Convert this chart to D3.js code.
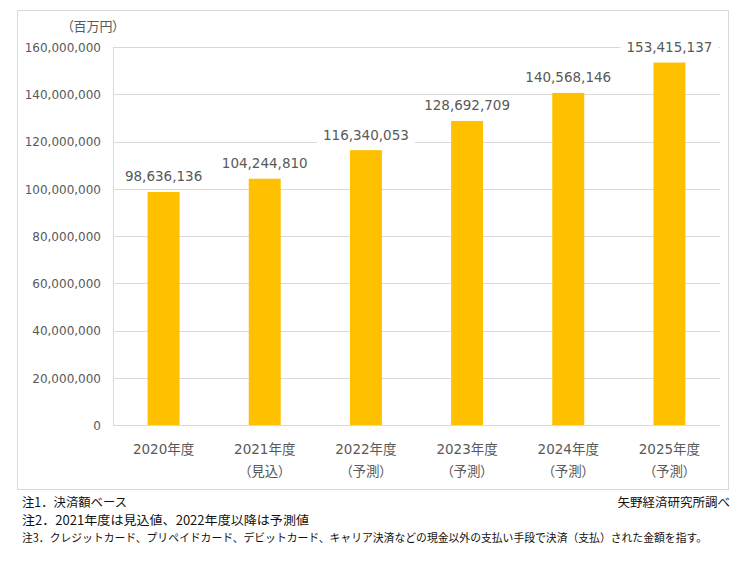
<!DOCTYPE html>
<html>
<head>
<meta charset="utf-8">
<script src="https://cdn.jsdelivr.net/npm/d3@7/dist/d3.min.js"></script>
<style>
  html, body { margin: 0; padding: 0; background: #fff; }
  svg { display: block; }
  .palt { font-feature-settings: "palt"; }
</style>
</head>
<body>
<svg id="chart" width="741" height="582"></svg>
<script>
const categories = ["2020年度", "2021年度", "2022年度", "2023年度", "2024年度", "2025年度"];
const subLabels = ["", "（見込）", "（予測）", "（予測）", "（予測）", "（予測）"];
const values = [98636136, 104244810, 116340053, 128692709, 140568146, 153415137];
const yTicks = [0, 20000000, 40000000, 60000000, 80000000, 100000000, 120000000, 140000000, 160000000];
const unitLabel = "（百万円）";
const notes = [
  "注1．決済額ベース",
  "注2．2021年度は見込値、2022年度以降は予測値",
  "注3．クレジットカード、プリペイドカード、デビットカード、キャリア決済などの現金以外の支払い手段で決済（支払）された金額を指す。"
];
const source = "矢野経済研究所調べ";

const svg = d3.select("#chart");
const latin = "'DejaVu Sans', 'Noto Sans CJK JP', sans-serif";
const jp = "'Noto Sans CJK JP', sans-serif";
const txtColor = "#595959";
const gridColor = "#D9D9D9";

// outer frame
svg.append("rect")
  .attr("x", 17.5).attr("y", 10.5).attr("width", 711).attr("height", 479)
  .attr("fill", "#fff").attr("stroke", gridColor).attr("stroke-width", 1);

const x = d3.scaleBand().domain(categories).range([113, 720]).paddingInner(0.684).paddingOuter(0.342);
const y = d3.scaleLinear().domain([0, 160000000]).range([425, 47]);

// gridlines
const grid = svg.append("g");
grid.selectAll("line").data(yTicks).join("line")
  .attr("x1", 113).attr("x2", 720)
  .attr("y1", d => Math.round(y(d)) + 0.5).attr("y2", d => Math.round(y(d)) + 0.5)
  .attr("stroke", gridColor).attr("stroke-width", 1);
// left axis line
svg.append("line")
  .attr("x1", 113.5).attr("x2", 113.5).attr("y1", Math.round(y(160000000)) + 0.5).attr("y2", Math.round(y(0)) + 0.5)
  .attr("stroke", gridColor);

// y axis
const yAxis = d3.axisLeft(y).tickValues(yTicks).tickSize(0).tickPadding(0)
  .tickFormat(d3.format(","));
const yg = svg.append("g").attr("transform", "translate(101,0)").call(yAxis);
yg.select(".domain").remove();
yg.selectAll("text").attr("fill", txtColor).style("font-family", latin).style("font-size", "12px")
  .attr("dy", "0.36em");

// unit label
svg.append("text").attr("class", "palt").attr("x", 119).attr("y", 31).attr("text-anchor", "end")
  .attr("fill", txtColor).style("font-family", jp).style("font-size", "13px").text(unitLabel);

// bars
svg.append("g").selectAll("rect").data(values).join("rect")
  .attr("x", (d, i) => x(categories[i]))
  .attr("width", x.bandwidth())
  .attr("y", d => y(d))
  .attr("height", d => y(0) - y(d))
  .attr("fill", "#FFC000");

// data labels with white background
const lg = svg.append("g");
values.forEach((v, i) => {
  const cx = x(categories[i]) + x.bandwidth() / 2;
  const by = y(v) - 10.5;
  const g = lg.append("g");
  const t = g.append("text").attr("x", cx).attr("y", by).attr("text-anchor", "middle")
    .attr("fill", txtColor).style("font-family", latin).style("font-size", "13.5px")
    .text(d3.format(",")(v));
  const bb = t.node().getBBox();
  g.insert("rect", "text").attr("x", bb.x - 6).attr("y", bb.y - 2)
    .attr("width", bb.width + 12).attr("height", bb.height + 4).attr("fill", "#fff");
});

// x labels
const xg = svg.append("g");
categories.forEach((c, i) => {
  const cx = x(c) + x.bandwidth() / 2;
  xg.append("text").attr("x", cx).attr("y", 454).attr("text-anchor", "middle")
    .attr("fill", txtColor).style("font-family", latin).style("font-size", "13.5px").text(c);
  if (subLabels[i]) {
    xg.append("text").attr("class", "palt").attr("x", cx).attr("y", 476).attr("text-anchor", "middle")
      .attr("fill", txtColor).style("font-family", jp).style("font-size", "13.5px").text(subLabels[i]);
  }
});

// footnotes
const noteY = [507, 524.5, 542];
const noteW = [105, 287, 685];
const noteSize = ["12.5px", "12.5px", "11.2px"];
notes.forEach((n, i) => {
  svg.append("text").attr("x", 22).attr("y", noteY[i])
    .attr("fill", "#111").style("font-family", jp).style("font-size", noteSize[i])
    .attr("textLength", noteW[i]).attr("lengthAdjust", "spacingAndGlyphs")
    .text(n);
});
svg.append("text").attr("x", 730).attr("y", 507).attr("text-anchor", "end")
  .attr("fill", "#111").style("font-family", jp).style("font-size", "12.5px")
  .text(source);
</script>
</body>
</html>
